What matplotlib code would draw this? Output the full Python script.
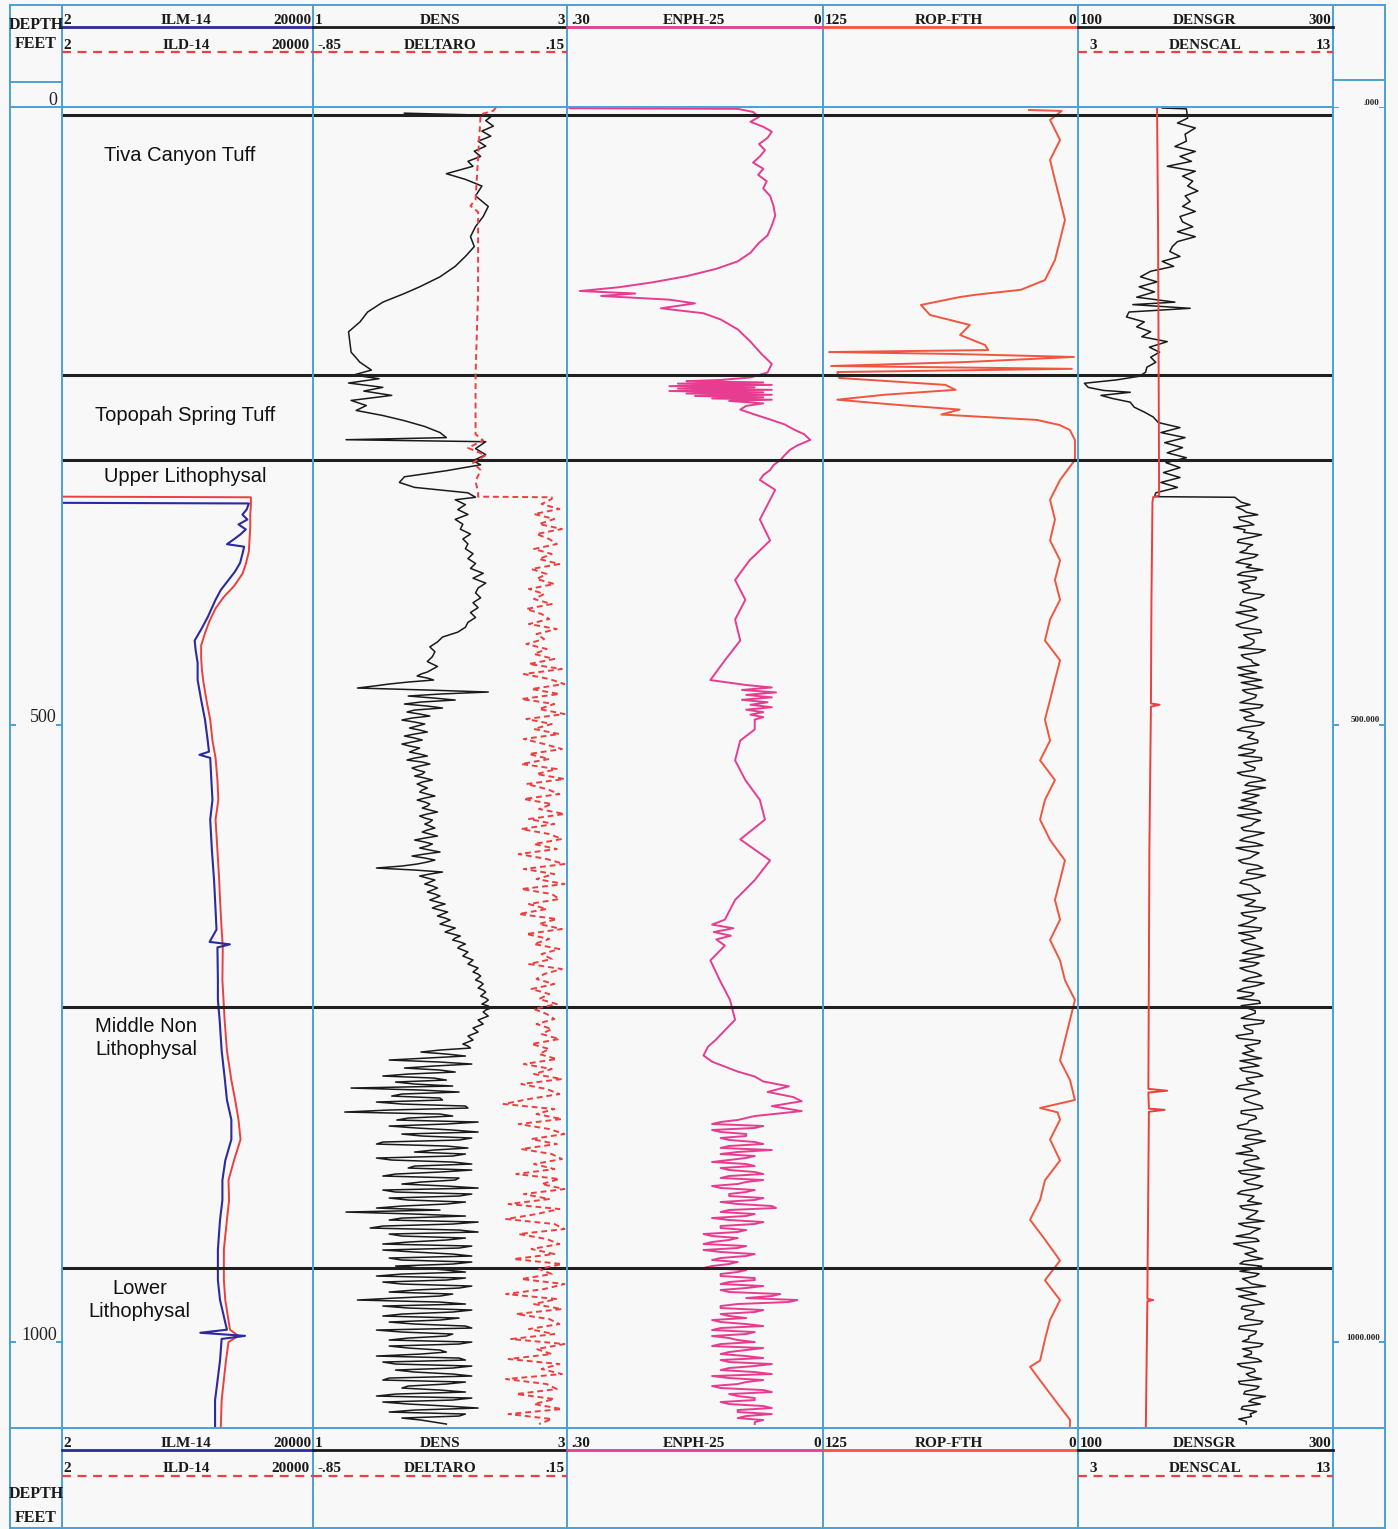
import numpy as np
import matplotlib.pyplot as plt
from matplotlib.lines import Line2D

W, H = 1398, 1529
TOP_Y, BOT_Y = 107, 1428      # pixel rows of the depth window
DEPTH_MAX = 1069.6            # depth at bottom of plot, ft


def seg(d0, d1, vals):
    # evenly sampled log segment between two depths
    v = np.array(vals.split(), float)
    return np.linspace(d0, d1, len(v)), v


def seg2(d0, d1, vals, mids):
    # same, with a second set of samples read half way between the first
    d, v = seg(d0, d1, vals)
    m = np.array(mids.split(), float)
    dd = np.empty(len(d) + len(m))
    vv = np.empty(len(d) + len(m))
    dd[0::2], vv[0::2] = d, v
    dd[1::2], vv[1::2] = (d[:-1] + d[1:]) / 2, m
    return dd, vv


# ---------------- formation tops
form_depth = [6.5, 217, 285.8, 728.7, 940]
form_names = ['Tiva Canyon Tuff', 'Topopah Spring Tuff', 'Upper Lithophysal',
              'Middle Non\nLithophysal', 'Lower\nLithophysal']
form_label_depth = [38.9, 249.4, 298.8, 754, 966]
form_label_x = [0.47, 0.49, 0.49, 0.335, 0.31]

# ---------------- track 1 : resistivity
ilm_depth = [320.5, 321, 326, 330, 334, 338, 342, 346, 350, 354, 356, 362, 369, 376, 383, 391, 399, 413, 423, 432,
             440, 450, 464, 480, 496, 513, 522, 524.5, 527, 545, 561, 577, 602, 626, 642, 666, 676, 678, 680.5, 707,
             723, 739, 764, 788, 804, 820, 836, 853, 869, 885, 901, 925, 950, 966, 990, 992.5, 995, 997.5, 1015, 1047, 1068]
ilm = [2, 1900, 1750, 1500, 1800, 1300, 1700, 1400, 1100, 850, 1600, 1500, 1380, 1150, 900, 680, 560, 420, 330, 260,
       270, 290, 290, 330, 380, 420, 440, 310, 460, 480, 500, 460, 490, 530, 550, 580, 450, 950, 600, 610,
       610, 650, 700, 790, 850, 1000, 1000, 800, 720, 720, 660, 610, 610, 660, 850, 320, 1650, 700, 660, 550, 550]
ild_depth = [315.5, 316, 322, 330, 340, 350, 360, 370, 378, 388, 397, 406, 416, 426, 436, 446, 456, 466, 480, 496,
             513, 527, 545, 561, 577, 602, 626, 642, 666, 680, 707, 723, 739, 764, 788, 804, 820, 836, 853, 869,
             885, 901, 925, 950, 966, 990, 995, 1000, 1015, 1047, 1068]
ild = [2, 2050, 2050, 2000, 2000, 1950, 1900, 1700, 1500, 1100, 750, 560, 450, 380, 330, 330, 340, 360, 400, 460,
       500, 560, 600, 620, 560, 600, 640, 660, 700, 730, 720, 750, 780, 850, 1000, 1150, 1300, 1400, 1100, 900,
       920, 850, 760, 760, 800, 950, 1300, 900, 820, 700, 680]

# ---------------- track 2 : density / delta rho
dens_top_depth = [5, 6.5, 8, 11, 15.5, 19.5, 23.6, 27.7, 31.7, 35.8, 40, 44, 48, 54, 58.6, 64, 72, 80.5, 88.7, 96.8,
                  105, 113, 121, 129, 137.5, 145.6, 151, 158, 166, 174, 182, 190, 198.5, 206.7, 213, 217, 220, 223.5,
                  227, 230, 233.5, 237.6, 241.7, 245.7, 249.8, 254, 258.7, 263.6, 267.7, 269.4, 271, 276.6, 281.5,
                  286.4, 289.7, 294.5, 299.4, 304, 308, 312.4, 316]
dens_top = [1.72, 2.30, 2.40, 2.36, 2.42, 2.33, 2.40, 2.30, 2.36, 2.27, 2.32, 2.22, 2.26, 2.05, 2.20, 2.33, 2.28,
            2.38, 2.34, 2.28, 2.24, 2.27, 2.20, 2.12, 2.00, 1.84, 1.72, 1.55, 1.43, 1.37, 1.28, 1.29, 1.30, 1.37,
            1.46, 1.32, 1.52, 1.28, 1.55, 1.40, 1.62, 1.30, 1.42, 1.34, 1.55, 1.72, 1.88, 2.00, 2.05, 1.26, 2.36,
            2.28, 2.36, 2.26, 2.32, 2.05, 1.72, 1.68, 1.80, 2.22, 2.28]
dens_mid = """2.12 2.20 2.14 2.22 2.12 2.18 2.16 2.24 2.18 2.22 2.20 2.26 2.22 2.28 2.24 2.34 2.26 2.36
2.30 2.28 2.32 2.26 2.30 2.24 2.28 2.22 2.20 2.14 2.02 1.98 1.92 1.96 1.94 1.90 1.98"""
dens_low = """1.90 1.82 1.95 1.60 1.35 2.38 1.75 2.12 1.72 2.02
1.74 1.92 1.70 1.88 1.76 1.90 1.72 1.86 1.70 1.84
1.76 1.90 1.74 1.92 1.78 1.88 1.80 1.94 1.82 1.90
1.84 1.96 1.82 1.92 1.86 1.98 1.84 1.94 1.88 1.96
1.86 1.98 1.80 1.94 1.84 2.00 1.78 1.96 1.82 1.50
2.02 1.84 1.96 1.88 1.98 1.90 2.00 1.92 2.04 1.94
2.06 1.98 2.08 2.00 2.12 2.04 2.16 2.10 2.20 2.14
2.22 2.18 2.26 2.22 2.30 2.26 2.32 2.28 2.34 2.30
2.36 2.32 2.38 2.33 2.40 2.34 2.38 2.30 2.34 2.26
2.30 2.22 2.26 2.18 2.24 1.85 2.20 1.60 2.25 1.72
2.12 1.55 2.05 1.80 1.30 2.15 1.62 2.02 1.70 2.22
1.25 2.10 1.66 2.05 1.82 2.30 1.86 2.15 1.50 2.22
1.80 2.10 1.62 2.25 1.75 2.00 1.55 2.12 1.70 2.30
1.65 2.15 1.75 2.05 1.50 1.26 2.20 1.60 2.10 1.45
2.30 1.70 2.05 1.55 2.15 1.80 2.25 1.70 2.10 1.85
2.20 1.50 2.05 1.70 2.15 1.60 2.00 1.35 2.20 1.75
2.10 1.55 2.00 1.80 2.25 1.70 2.05 1.60 2.15 1.75
2.05 1.50 2.20 1.65 2.10 1.80 2.25 1.55 2.05 1.70
2.20 1.50 2.10 1.75 2.30 1.60 2.15 1.85 2.05"""
dens_low_mid = """1.85 1.90 1.75 1.48 1.90 2.00 1.95 1.85 1.90 1.80
1.84 1.78 1.80 1.82 1.84 1.80 1.80 1.78 1.76 1.80
1.84 1.80 1.86 1.84 1.82 1.86 1.88 1.86 1.86 1.86
1.90 1.88 1.88 1.90 1.92 1.90 1.88 1.92 1.92 1.90
1.92 1.88 1.88 1.90 1.92 1.88 1.88 1.90 1.70 1.80
1.92 1.90 1.92 1.94 1.94 1.96 1.96 1.98 1.98 2.00
2.02 2.04 2.04 2.06 2.08 2.10 2.12 2.16 2.16 2.18
2.20 2.22 2.24 2.26 2.28 2.30 2.30 2.32 2.32 2.34
2.34 2.36 2.36 2.38 2.36 2.36 2.34 2.32 2.30 2.28
2.26 2.24 2.22 2.22 2.00 2.05 1.90 2.00 1.95 2.00
1.75 1.95 1.65 2.10 1.85 1.70 2.00 1.50 2.20 1.60
2.00 1.75 2.30 1.60 2.10 1.70 2.25 1.55 2.05 1.95
2.20 1.50 2.10 1.80 2.25 1.65 2.15 1.85 2.05 1.55
2.25 1.60 2.20 1.70 2.00 1.80 1.70 2.30 1.55 2.15
1.60 2.20 1.75 2.25 1.55 2.10 1.60 2.25 1.65 2.05
1.70 2.20 1.55 2.25 1.80 2.10 1.65 2.00 1.55 2.25
1.70 2.15 1.60 2.20 1.50 2.10 1.75 2.25 1.60 2.00
1.85 2.15 1.55 2.25 1.65 2.10 1.60 2.20 1.75 2.00
1.65 2.25 1.55 2.05 1.80 2.20 1.70 1.95"""

drho_top_depth = [0.5, 3, 6, 40, 75, 80, 85, 150, 217, 265, 270, 276, 282, 288, 294, 303, 312, 315.5, 316]
drho_top = [-0.13, -0.14, -0.19, -0.20, -0.21, -0.23, -0.20, -0.20, -0.21, -0.21, -0.18, -0.24, -0.17, -0.22,
            -0.19, -0.21, -0.20, -0.20, 0.09]
drho_low = """0.09 0.05 0.12 0.02 0.10 0.04 0.13 0.03 0.08 0.11
0.02 0.09 0.04 0.12 0.01 0.07 0.03 0.10 0.00 0.06
0.02 0.09 -0.01 0.05 0.08 0.00 0.11 0.03 0.06 -0.01
0.07 0.02 0.10 0.00 0.13 -0.02 0.08 0.14 0.01 0.12
-0.03 0.10 0.04 0.14 -0.01 0.09 0.02 0.12 -0.02 0.06
0.13 0.00 0.08 -0.03 0.11 0.03 0.14 -0.01 0.07 0.12
-0.02 0.09 0.04 0.14 0.00 0.10 -0.03 0.08 0.13 0.02
0.11 -0.04 0.07 0.14 -0.02 0.10 0.03 0.14 -0.03 0.09
0.12 0.00 0.07 -0.04 0.11 0.04 0.13 -0.01 0.08 0.02
0.12 0.05 0.09 0.00 0.13 0.06 0.03 0.10 0.01 0.08
0.04 0.11 0.02 0.07 0.10 0.03 0.09 0.05 0.12 0.01
0.08 0.04 0.11 -0.02 0.09 0.02 0.13 -0.03 0.07 0.12
0.00 -0.10 0.10 0.03 0.13 -0.04 0.08 0.14 0.01 0.11
-0.03 0.09 0.13 0.02 0.10 -0.05 0.12 0.05 0.14 -0.02
0.08 -0.08 0.12 0.03 -0.09 0.10 0.14 -0.04 0.07 0.12
0.01 0.10 -0.06 0.13 0.04 0.09 -0.03 0.14 0.06 -0.09
0.11 0.02 0.13 -0.05 0.08 0.12 0.00 0.10 -0.07 0.14
0.03 0.09 -0.08 0.12 0.05 0.13 -0.09 0.07 0.11 -0.05
0.10 0.02 0.13 -0.08 0.09 0.04"""

# ---------------- track 3 : neutron porosity
enph_depth = [1, 1.5, 4, 8, 12, 16, 20, 25, 30, 35, 40, 45, 50, 55, 60, 66, 72, 80, 88, 96, 104, 110, 118, 125,
              131, 137, 142, 146, 149, 151, 153, 156, 159, 163, 167, 172, 180, 190, 200, 208, 215, 219, 221, 222,
              223, 224, 225, 226, 227, 228, 229, 230, 231, 232, 233, 234, 235, 236, 237, 238, 240, 242, 245, 249,
              253, 257, 261.5, 265, 269.6, 274, 277.7, 282, 285.8, 290, 294, 298, 302, 310, 318, 334, 351, 367,
              383, 399, 415, 432, 448, 457.5, 464, 468, 470, 472, 474, 476, 478, 480, 482, 484, 486, 488, 490,
              492, 494, 496, 504, 513, 529, 545, 561, 577, 593, 610, 626, 642, 658, 662, 665, 668, 671, 674, 679,
              691, 707, 723, 739, 755.5, 761, 768, 773, 777, 781, 785, 789, 793, 797.5, 801.6, 805, 809, 813, 817]
enph = [0.297, 0.10, 0.082, 0.075, 0.085, 0.07, 0.06, 0.065, 0.075, 0.068, 0.074, 0.082, 0.070, 0.076, 0.066,
        0.07, 0.062, 0.058, 0.056, 0.06, 0.065, 0.075, 0.085, 0.10, 0.125, 0.16, 0.20, 0.24, 0.285, 0.22, 0.26,
        0.18, 0.15, 0.19, 0.14, 0.12, 0.10, 0.085, 0.072, 0.06, 0.065, 0.085, 0.12, 0.16, 0.07, 0.17, 0.06, 0.18,
        0.08, 0.17, 0.06, 0.18, 0.07, 0.16, 0.06, 0.15, 0.07, 0.13, 0.06, 0.11, 0.07, 0.09, 0.097, 0.08, 0.062,
        0.045, 0.033, 0.022, 0.015, 0.03, 0.039, 0.045, 0.050, 0.058, 0.062, 0.07, 0.074, 0.056, 0.062, 0.074,
        0.062, 0.086, 0.103, 0.091, 0.103, 0.097, 0.115, 0.125, 0.132, 0.09, 0.06, 0.095, 0.055, 0.09, 0.06,
        0.095, 0.065, 0.085, 0.06, 0.09, 0.07, 0.085, 0.07, 0.08, 0.08, 0.097, 0.103, 0.091, 0.074, 0.068, 0.097,
        0.062, 0.08, 0.103, 0.115, 0.13, 0.105, 0.128, 0.108, 0.125, 0.115, 0.132, 0.121, 0.109, 0.103, 0.126,
        0.135, 0.14, 0.13, 0.115, 0.10, 0.08, 0.07, 0.04, 0.065, 0.035, 0.025, 0.06, 0.025, 0.08]
enph_low = """0.10 0.13 0.08 0.12 0.09 0.11 0.07 0.12 0.10 0.08
0.11 0.09 0.12 0.08 0.11 0.07 0.10 0.12 0.09 0.11
0.08 0.10 0.055 0.12 0.09 0.11 0.08 0.12 0.10 0.13
0.11 0.14 0.10 0.12 0.09 0.13 0.11 0.14 0.10 0.12
0.08 0.12 0.09 0.11 0.06 0.03 0.10 0.12 0.08 0.11
0.13 0.09 0.12 0.08 0.13 0.10 0.12 0.07 0.11 0.09
0.12 0.06 0.11 0.08 0.13 0.07 0.10 0.12 0.06 0.10
0.08 0.11 0.06 0.10 0.09 0.07 0.08"""
enph_low_mid = """0.12 0.07 0.13 0.09 0.12 0.08 0.11 0.06 0.12 0.09
0.13 0.08 0.11 0.07 0.12 0.09 0.13 0.08 0.11 0.07
0.12 0.06 0.11 0.08 0.13 0.07 0.12 0.09 0.14 0.10
0.13 0.09 0.14 0.08 0.12 0.10 0.13 0.09 0.12 0.08
0.11 0.07 0.12 0.05 0.09 0.04 0.12 0.07 0.12 0.09
0.12 0.07 0.13 0.09 0.11 0.08 0.13 0.09 0.12 0.07
0.11 0.08 0.12 0.06 0.11 0.09 0.13 0.07 0.11 0.08
0.12 0.07 0.10 0.06 0.10 0.08"""

# ---------------- track 4 : rate of penetration
rop_depth = [2.4, 3.2, 10.5, 26.7, 42.9, 59.1, 75.3, 91.5, 107.7, 123.9, 140.1, 148, 152, 153.9, 160.3, 168.4,
             176.5, 184.6, 192.7, 196.8, 198.4, 200, 202.4, 206.5, 209.7, 212, 214.6, 219.4, 225, 229, 233, 237,
             241, 245, 249, 253.4, 257.5, 261.5, 269.6, 285.8, 302, 318, 334, 351, 367, 383, 399, 415, 432, 448,
             464, 480, 496, 513, 529, 545, 561, 577, 593.5, 610, 626, 642, 658, 674.5, 691, 707, 723, 739, 755.5,
             772, 788, 804, 810.5, 814, 820, 836, 853, 869, 885, 901, 917, 934, 950, 966, 982, 998, 1015, 1020,
             1031, 1047, 1063, 1068]
rop = [24, 8, 13.7, 8.8, 13.7, 11.3, 8.8, 6.4, 8.8, 11.3, 16.2, 28, 50, 58, 77, 72.5, 53, 57.8, 45.6, 44, 122, 60,
       2, 55, 121, 3, 118, 117, 65, 60, 95, 118, 90, 58, 67, 20, 9, 4, 1.5, 1.5, 8.8, 13.7, 11.3, 13.7, 8.8, 11.3,
       8.8, 13.7, 16.2, 8.8, 11.3, 13.7, 16.2, 13.7, 18.6, 11.3, 16.2, 18.6, 13.7, 6.4, 8.8, 11.3, 8.8, 13.7, 8.8,
       6.4, 1.5, 3.9, 6.4, 8.8, 3.9, 1.5, 18.6, 10, 8.8, 13.7, 8.8, 16.2, 18.6, 23.5, 16.2, 8.8, 16.2, 8.8, 13.7,
       16.2, 18.6, 23.5, 18.6, 11.3, 3.9, 4]

# ---------------- track 5 : gamma ray / caliper
gr_top_depth = [0.8, 1.5, 9, 13, 17, 22, 27.7, 32, 36, 40, 44, 48, 52, 56, 60, 64, 68, 72, 76.5, 80.5, 84.6, 88.7,
                93, 97, 101, 105, 109, 113, 117, 121, 125, 129, 133, 137.5, 141.6, 145.6, 149.7, 154, 158, 160,
                163, 166, 170, 174, 178, 182, 186, 190, 194.5, 198.5, 202.6, 206.7, 210.7, 214.8, 218, 221, 223.7,
                227, 229.5, 231, 233.5, 236, 239, 243, 247, 251, 255.5, 259.6, 263.6, 267.7, 271.8, 275.8, 280,
                284, 288, 292, 296, 300, 304, 308, 312.4, 315.5, 316]
gr_top = [166, 185, 186, 178, 192, 184, 185, 176, 192, 180, 189, 170, 192, 182, 190, 186, 194, 184, 188, 182, 192,
          180, 182, 190, 178, 192, 178, 174, 172, 180, 166, 175, 157, 149, 162, 148, 160, 146, 176, 143, 188, 140,
          138, 152, 146, 157, 150, 170, 156, 164, 157, 161, 154, 153, 148, 130, 105, 108, 120, 141, 118, 127, 141,
          144, 152, 159, 163, 180, 165, 184, 168, 182, 170, 185, 169, 180, 167, 180, 165, 178, 161, 160, 223]
gr_low = """228 224 232 226 234 222 230 236 225 233
227 238 224 232 229 240 226 235 230 243
228 236 224 241 231 228 244 233 238 226
242 230 237 225 240 234 228 245 232 239
227 243 235 230 246 229 238 233 241 226
237 244 230 239 225 242 234 247 229 236
240 226 244 233 238 228 246 231 239 224
242 235 229 245 232 240 227 238 243 230
236 247 228 240 233 244 226 239 231 245
229 237 242 227 240 234 246 230 238 225
243 233 239 228 245 231 237 226 242 234
229 244 236 227 241 232 238 224 243 230
237 245 228 240 233 226 244 231 239 235
224 242 230 246 228 238 233 241 225 236
244 229 239 232 226 243 235 240 222 237
231 245 227 238 242 229 236 224 240 233
246 228 237 231 243 226 239 234 245 229
236 241 225 238 232 244 227 240 230 237
243 228 235 226 232"""
gr_low_mid = """235 229 241 227 238 231 244 226 237 232
241 228 236 245 225 239 233 229 246 234
227 240 232 237 224 243 230 238 235 247
228 236 242 231 226 244 237 229 240 233
245 227 238 232 243 225 236 241 230 239
226 244 233 238 229 247 231 236 242 228
234 240 225 243 236 230 239 227 245 232
238 226 241 233 247 229 236 242 225 239
231 244 230 237 226 243 235 228 240 234
246 227 238 232 244 229 240 225 236 242
228 239 233 246 230 237 224 243 231 238
235 227 242 229 245 233 226 240 236 231
244 228 239 234 225 241 232 247 229 237
240 231 236 226 243 230 245 228 238 233
227 241 235 246 231 238 224 242 229 240
236 230 244 227 239 233 247 232 226 241
229 238 231 245 227 240 234 229 243 236
230 244 228 239 235 226 242 231 247 234
229 240 236 232"""
cal_depth = [0, 100, 200, 310, 314.5, 315.8, 320, 400, 483, 484, 485.5, 600, 700, 795, 796.5, 798, 811, 812,
             813.5, 965, 966, 967, 1068]
cal = [6.10, 6.14, 6.16, 6.18, 6.18, 5.95, 5.92, 5.88, 5.86, 6.2, 5.86, 5.80, 5.78, 5.76, 6.5, 5.76, 5.78, 6.4,
       5.78, 5.72, 5.95, 5.72, 5.66]

depth_ticks = [0, 500, 1000]
left_labels = ['0', '500', '1000']
right_labels = ['.000', '500.000', '1000.000']

# assemble sampled curves
d1, v1 = seg(318, 453, dens_mid)
d2, v2 = seg2(457.5, 1066.4, dens_low, dens_low_mid)
dens_d = np.concatenate([dens_top_depth, d1, d2])
dens_v = np.concatenate([dens_top, v1, v2])
d1, v1 = seg(317.4, 1066.4, drho_low)
drho_d = np.concatenate([drho_top_depth, d1])
drho_v = np.concatenate([drho_top, v1])
d1, v1 = seg2(820.2, 1066.4, enph_low, enph_low_mid)
enph_d = np.concatenate([enph_depth, d1])
enph_v = np.concatenate([enph, v1])
d1, v1 = seg2(320, 1066.4, gr_low, gr_low_mid)
gr_d = np.concatenate([gr_top_depth, d1])
gr_v = np.concatenate([gr_top, v1])

# ---------------- colours
BLUE = '#4aa0d5'
C_ILM = '#2c2a9c'
RED = '#ec3f3f'
PINK = '#e63d90'
C_ROP = '#f0553f'
BLACK = '#1a1a1a'

fig = plt.figure(figsize=(W / 100, H / 100), dpi=100)
fig.patch.set_facecolor('#f8f8f8')


def fx(x):
    return x / W


def fy(y):
    return 1 - y / H


def fline(x0, y0, x1, y1, **kw):
    fig.add_artist(Line2D([fx(x0), fx(x1)], [fy(y0), fy(y1)], **kw))


def add_ax(x0, x1):
    ax = fig.add_axes([fx(x0), fy(BOT_Y), (x1 - x0) / W, (BOT_Y - TOP_Y) / H])
    ax.set_ylim(DEPTH_MAX, 0)
    ax.axis('off')
    return ax


edges = [62, 313, 567, 823, 1078, 1333]
tracks = [add_ax(a, b) for a, b in zip(edges[:-1], edges[1:])]

# track 1
ax = tracks[0]
ax.set_xscale('log')
ax.set_xlim(2, 20000)
ax.plot(ild, ild_depth, color=RED, lw=1.4)
ax.plot(ilm, ilm_depth, color=C_ILM, lw=1.5)
for name, d, x in zip(form_names, form_label_depth, form_label_x):
    ax.text(x, d, name, transform=ax.get_yaxis_transform(), ha='center', va='center',
            fontsize=14.5, family='Liberation Sans', linespacing=1.3, color='#111')

# track 2
ax = tracks[1]
ax.set_xlim(1, 3)
ax.plot(dens_v, dens_d, color=BLACK, lw=1.1)
ax2 = ax.twiny()
ax2.set_ylim(DEPTH_MAX, 0)
ax2.axis('off')
ax2.set_xlim(-0.85, 0.15)
ax2.plot(drho_v, drho_d, color=RED, lw=1.4, dashes=(3, 2))

# track 3
ax = tracks[2]
ax.set_xlim(0.30, 0)
ax.plot(enph_v, enph_d, color=PINK, lw=1.4)

# track 4
ax = tracks[3]
ax.set_xlim(125, 0)
ax.plot(rop, rop_depth, color=C_ROP, lw=1.4)

# track 5
ax = tracks[4]
ax.set_xlim(100, 300)
ax.plot(gr_v, gr_d, color=BLACK, lw=1.1)
ax2 = ax.twiny()
ax2.set_ylim(DEPTH_MAX, 0)
ax2.axis('off')
ax2.set_xlim(3, 13)
ax2.plot(cal, cal_depth, color=RED, lw=1.4)

for ax in tracks:
    for d in form_depth:
        ax.axhline(d, color='#202020', lw=2.2, zorder=5)

# depth columns
lax = add_ax(10, 62)
rax = add_ax(1333, 1385)
lax.set_xlim(0, 1)
rax.set_xlim(0, 1)
for d, s in zip(depth_ticks, left_labels):
    lax.hlines(d, 0, 0.12, color=BLUE, lw=1.4)
    lax.hlines(d, 0.88, 1, color=BLUE, lw=1.4)
    lax.text(0.9, d - 2, s, ha='right', va='baseline', fontsize=13, family='Liberation Serif', color='#222')
for d, s in zip(depth_ticks, right_labels):
    rax.hlines(d, 0, 0.12, color=BLUE, lw=1.4)
    rax.hlines(d, 0.88, 1, color=BLUE, lw=1.4)
    rax.text(0.9, d - 2, s, ha='right', va='baseline', fontsize=6.5, family='Liberation Serif',
             weight='bold', color='#222')

# ---------------- frame lines
for x in [10, 62, 313, 567, 823, 1078, 1333, 1385]:
    fline(x, 5, x, 1528, color=BLUE, lw=1.4)
fline(10, 5, 1385, 5, color=BLUE, lw=1.4)
fline(10, 82, 62, 82, color=BLUE, lw=1.4)
fline(1333, 80, 1385, 80, color=BLUE, lw=1.4)
fline(10, TOP_Y, 1333, TOP_Y, color=BLUE, lw=1.4)
fline(10, BOT_Y, 1385, BOT_Y, color=BLUE, lw=1.4)
fline(10, 1528, 1385, 1528, color=BLUE, lw=1.4)

# ---------------- headers
hfont = dict(family='Liberation Serif', weight='bold', fontsize=11, color='#1a1a1a')
row1 = [('2', 63, 'left'), ('ILM-14', 186, 'center'), ('20000', 311, 'right'),
        ('1', 315, 'left'), ('DENS', 440, 'center'), ('3', 565, 'right'),
        ('.30', 571, 'left'), ('ENPH-25', 694, 'center'), ('0', 821, 'right'),
        ('125', 825, 'left'), ('ROP-FTH', 949, 'center'), ('0', 1076, 'right'),
        ('100', 1080, 'left'), ('DENSGR', 1205, 'center'), ('300', 1331, 'right')]
row2 = [('2', 63, 'left'), ('ILD-14', 186, 'center'), ('20000', 310, 'right'),
        ('-.85', 318, 'left'), ('DELTARO', 440, 'center'), ('.15', 565, 'right'),
        ('3', 1093, 'center'), ('DENSCAL', 1205, 'center'), ('13', 1331, 'right')]
solid_keys = [(62, 313, C_ILM), (313, 567, BLACK), (567, 823, PINK), (823, 1078, C_ROP), (1078, 1333, BLACK)]
dash_keys = [(62, 313), (313, 567), (1078, 1333)]

for t1, l1, t2, l2 in [(24, 27, 49, 52), (1447, 1450, 1472, 1476)]:
    for s, x, ha in row1:
        fig.text(fx(x), fy(t1), s, ha=ha, va='baseline', **hfont)
    for s, x, ha in row2:
        fig.text(fx(x), fy(t2), s, ha=ha, va='baseline', **hfont)
    for a, b, c in solid_keys:
        fline(a, l1, b, l1, color=c, lw=2)
    for a, b in dash_keys:
        fline(a, l2, b, l2, color=RED, lw=1.6, dashes=(4, 3))

dfont = dict(family='Liberation Serif', weight='bold', fontsize=11.5, color='#1a1a1a')
for y, s in [(29, 'DEPTH'), (48, 'FEET'), (1498, 'DEPTH'), (1522, 'FEET')]:
    fig.text(fx(36), fy(y), s, ha='center', va='baseline', **dfont)

fig.savefig('out.png', dpi=100, facecolor=fig.get_facecolor())
